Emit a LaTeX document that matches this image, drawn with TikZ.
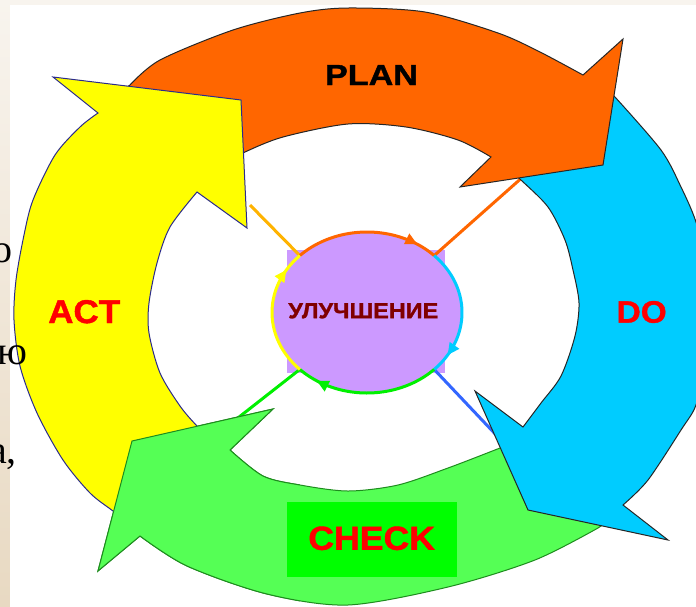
\documentclass[tikz,border=0pt]{standalone}
\usepackage{fontspec}
\setmainfont{Liberation Sans}
\newfontfamily\serifA{Liberation Serif}
\newfontfamily\heavy[FakeBold=1.2]{Liberation Sans Bold}
\usetikzlibrary{shapes.geometric,arrows.meta}
\definecolor{cOrange}{HTML}{FF6600}
\definecolor{cBlue}{HTML}{00CCFF}
\definecolor{cYellow}{HTML}{FFFF00}
\definecolor{cGreen}{HTML}{55FF55}
\definecolor{cGreenBox}{HTML}{00FF00}
\definecolor{cPurple}{HTML}{CC99FF}
\definecolor{cNavy}{HTML}{2B2B8C}
\definecolor{cDkGreen}{HTML}{1E8C1E}
\definecolor{cLineY}{HTML}{FFB300}
\definecolor{cLineB}{HTML}{3366FF}
\definecolor{cArcG}{HTML}{00F000}
\definecolor{cDarkRed}{HTML}{800000}
\definecolor{cBeigeT}{HTML}{F8F4EE}
\definecolor{cBeigeB}{HTML}{E8D9C2}
\tikzset{
  greenshape/.style={insert path={(610,520) -- plot[smooth] coordinates {(598,528) (535,560) (448,587) (348,605) (267,594) (187,566) (140,536)} -- (98,571) -- (132,441) -- (273,409) -- (230,450) -- plot[smooth] coordinates {(230,450) (263,476) (300,485) (348,491) (398,485) (448,468) (500,448) (512,443)} -- cycle}},
  arrowbody/.style={line width=1pt, line join=miter},
  link/.style={line width=3pt},
  ringarc/.style={line width=3pt},
  ringtip/.style={line width=3pt, -{Triangle[length=12pt,width=11pt]}},
  bigword/.style={inner sep=0pt, text=red, font=\heavy},
  frag/.style={anchor=base east, inner sep=0pt, font=\serifA\fontsize{40}{40}\selectfont}
}
\begin{document}
\begin{tikzpicture}[x=1pt,y=-1pt]
\useasboundingbox (0,0) rectangle (696,606);
\clip (0,0) rectangle (696,606);
% background
\shade[top color=cBeigeT,bottom color=cBeigeB] (0,0) rectangle (696,606);
\fill[white] (10,5) rectangle (700,610);

% centre node and junctions
\fill[cPurple] (287,250) rectangle (445,373);
\node[ellipse, fill=cPurple, minimum width=190pt, minimum height=161pt, inner sep=0pt] (imp) at (367,312.5) {};
\coordinate (jTL) at ({367+95*cos(135)},{312.5-80.5*sin(135)});
\coordinate (jTR) at ({367+95*cos(45)},{312.5-80.5*sin(45)});
\coordinate (jBR) at ({367+95*cos(-45)},{312.5-80.5*sin(-45)});
\coordinate (jBL) at ({367+95*cos(-135)},{312.5-80.5*sin(-135)});

% arrow-side ends of links
\coordinate (aY) at (250,205);
\coordinate (aO) at (525,175);
\coordinate (aB) at (500,439);
\coordinate (aG) at (234,421);

% links (under the arrows)
\draw[link, cLineY] (aY) -- (jTL);
\draw[link, cOrange] (aO) -- (jTR);
\draw[link, cLineB] (jBR) -- (aB);
\draw[link, cArcG] (aG) -- (jBL);

% CHECK arrow (green)
\filldraw[arrowbody, fill=cGreen, draw=cDkGreen, greenshape];
% DO arrow (blue)
\filldraw[arrowbody, fill=cBlue, draw=black!85] (605,90) -- plot[smooth] coordinates {(615,97) (661,150) (681,187) (696,222) (708,270) (712,315) (707,360) (696,405) (681,430) (648,480) (623,505)} -- (668,540) -- (528,510) -- (475,391) -- (523,427) -- plot[smooth] coordinates {(523,427) (541,403) (561,376) (575,336) (579,303) (573,270) (565,240) (548,207) (521,180) (510,170)} -- cycle;
% PLAN arrow (orange)
\filldraw[arrowbody, fill=cOrange, draw=black!85] (120,92) -- plot[smooth] coordinates {(130,85) (160,60) (233,30) (300,13) (348,8) (425,12) (498,33) (540,52) (583,75)} -- (623,39) -- (603,165) -- (460,187) -- (491,157) -- plot[smooth] coordinates {(491,157) (458,140) (406,127) (348,124) (283,137) (245,152) (232,160)} -- cycle;
% ACT arrow (yellow)
\filldraw[arrowbody, fill=cYellow, draw=cNavy] (53,77) -- (241,100) -- (247,228) -- (197,192) -- plot[smooth] coordinates {(197,192) (170,227) (157,263) (149,303) (149,333) (160,373) (180,406) (197,426) (212,440)} -- (135,528) -- plot[smooth] coordinates {(135,528) (113,511) (90,493) (63,460) (37,413) (20,366) (14,320) (16,280) (24,235) (33,200) (55,155) (80,127) (98,113)} -- cycle;
% green head again, over the yellow tail
\begin{scope}
  \clip (0,380) rectangle (300,606);
  \filldraw[arrowbody, fill=cGreen, draw=cDkGreen, greenshape];
\end{scope}

% ring arcs around the centre
\draw[ringtip, cOrange] plot[domain=135:58, samples=40] ({367+95*cos(\x)},{312.5-80.5*sin(\x)});
\draw[ringarc, cOrange] plot[domain=62:45, samples=10] ({367+95*cos(\x)},{312.5-80.5*sin(\x)});
\draw[ringtip, cBlue] plot[domain=45:-32, samples=40] ({367+95*cos(\x)},{312.5-80.5*sin(\x)});
\draw[ringarc, cBlue] plot[domain=-28:-45, samples=10] ({367+95*cos(\x)},{312.5-80.5*sin(\x)});
\draw[ringtip, cArcG] plot[domain=-45:-122, samples=40] ({367+95*cos(\x)},{312.5-80.5*sin(\x)});
\draw[ringarc, cArcG] plot[domain=-118:-135, samples=10] ({367+95*cos(\x)},{312.5-80.5*sin(\x)});
\draw[ringtip, cYellow] plot[domain=-135:-212, samples=40] ({367+95*cos(\x)},{312.5-80.5*sin(\x)});
\draw[ringarc, cYellow] plot[domain=-208:-225, samples=10] ({367+95*cos(\x)},{312.5-80.5*sin(\x)});

% labels
\node[inner sep=0pt, font=\heavy] (plan) at (371.5,75) {\resizebox{93pt}{20pt}{PLAN}};
\node[bigword] (act) at (84.2,311.7) {\resizebox{72pt}{23pt}{ACT}};
\node[bigword] (do) at (641.7,312) {\resizebox{50pt}{21.6pt}{DO}};
\node[fill=cGreenBox, minimum width=170pt, minimum height=75pt, inner sep=0pt] (checkbox) at (371.7,539.2) {};
\node[bigword] (check) at (371.7,538.3) {\resizebox{126.7pt}{23.3pt}{CHECK}};
\node[inner sep=0pt, text=cDarkRed, font=\heavy] (imptext) at (363.3,310.8) {\resizebox{150pt}{15pt}{УЛУЧШЕНИЕ}};

% cut-off text at the left edge
\node[frag] (f1) at (13,262) {о};
\node[frag] (f2) at (28,364) {ю};
\node[frag] (f3) at (17,463) {а,};
\end{tikzpicture}
\end{document}
